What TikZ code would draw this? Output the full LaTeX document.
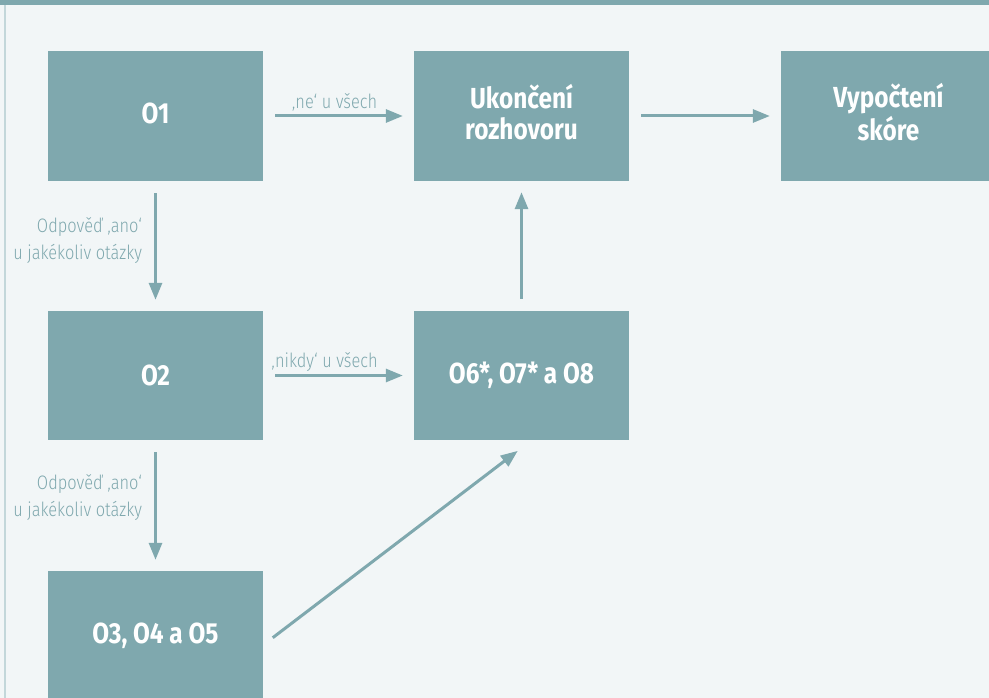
\documentclass[tikz,border=0pt]{standalone}
\usepackage{fontspec}
\setmainfont{Fira Sans}
\newfontfamily\boxfont[FakeStretch=0.84]{Fira Sans Bold}
\newfontfamily\lblfont[FakeStretch=0.84]{Fira Sans Light}
\usetikzlibrary{arrows.meta}
\definecolor{teal}{HTML}{7FA8AE}
\definecolor{bg}{HTML}{F2F6F7}
\definecolor{edge}{HTML}{C3D7DA}
\newcommand{\twolines}[2]{\raisebox{4pt}{\begin{tabular}{@{}c@{}}#1\\#2\end{tabular}}}
\tikzset{
  stepbox/.style={fill=teal, draw=none, minimum width=215pt, minimum height=130pt, inner sep=0pt,
    text=white, align=center, font=\boxfont\fontsize{29}{29}\selectfont},
  conn/.style={draw=teal, line width=3pt, -{Triangle[length=17pt,width=13pt]}, shorten <=12pt, shorten >=11pt},
  lbl/.style={text=teal, font=\lblfont\fontsize{19.5}{27}\selectfont, inner sep=2pt}
}
\begin{document}
\begin{tikzpicture}[x=1pt,y=-1pt]
\useasboundingbox (0,0) rectangle (989,698);
\fill[bg] (0,0) rectangle (989,698);
\fill[teal] (0,0) rectangle (989,5);
\draw[edge, line width=2pt] (4.5,5) -- (4.5,698);
\node[stepbox] (o1) at (155.5,116) {\raisebox{6pt}{O1}};
\node[stepbox] (uk) at (521.5,116) {\twolines{Ukončení}{rozhovoru}};
\node[stepbox] (vy) at (888.5,116) {\twolines{Vypočtení}{skóre}};
\node[stepbox, minimum height=129pt] (o2) at (155.5,375.5) {O2};
\node[stepbox, minimum height=129pt] (o6) at (521.5,375.5) {O6*, O7* a O8};
\node[stepbox] (o3) at (155.5,636) {\raisebox{4pt}{O3, O4 a O5}};
\draw[conn] (o1) -- node[lbl, above, xshift=-4pt, yshift=1pt] {‚ne‘ u všech} (uk);
\draw[conn] (uk) -- (vy);
\draw[conn] (o1) -- node[lbl, left=10pt, align=right, yshift=6pt] {Odpověď ‚ano‘\\u jakékoliv otázky} (o2);
\draw[conn] (o2) -- node[lbl, above, xshift=-14pt, yshift=1pt] {‚nikdy‘ u všech} (o6);
\draw[conn] (o6) -- (uk);
\draw[conn] (o2) -- node[lbl, left=10pt, align=right, yshift=8pt] {Odpověď ‚ano‘\\u jakékoliv otázky} (o3);
\draw[conn] ([yshift=-9pt]o3.east) -- ([xshift=5pt,yshift=-4pt]o6.south);
\end{tikzpicture}
\end{document}
